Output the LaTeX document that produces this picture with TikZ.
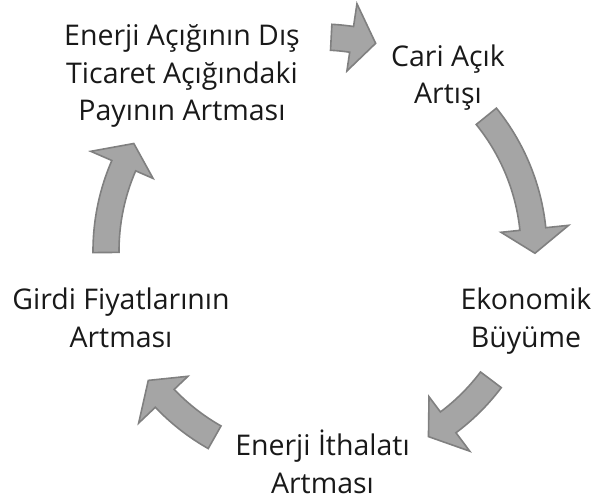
\documentclass[tikz,border=0pt]{standalone}
\usepackage{fontspec}
\setmainfont{Open Sans}

\definecolor{arrowfill}{HTML}{A5A5A5}
\definecolor{arrowline}{HTML}{808080}
\tikzset{
  item/.style={align=center, inner sep=0pt, anchor=base, text=black!90,
    font=\fontsize{28.5}{37.5}\selectfont},
  blockarrow/.style={fill=arrowfill, draw=arrowline, line width=1.6pt, line join=miter}
}
% circular block arrow: tail angle, tip angle (clockwise)
\newcommand{\blockarc}[2]{%
  \pgfmathsetmacro{\hb}{#2+6.5}
  \draw[blockarrow] (#1:227) arc[start angle=#1, end angle=\hb, radius=227]
    -- (\hb:250) -- (#2:215) -- (\hb:182) -- (\hb:201)
    arc[start angle=\hb, end angle=#1, radius=201] -- cycle;
}

\begin{document}
\begin{tikzpicture}[x=1pt,y=1pt]
  \useasboundingbox (-320,-250) rectangle (272,251);
  % base anchor = baseline of the last line
  \foreach \pos/\name/\txt in {
      {(-138,130)/payi/{Enerji Açığının Dış\\Ticaret Açığındaki\\Payının Artması}},
      {(128,147)/cari/{Cari Açık\\Artışı}},
      {(206,-96)/buyume/{Ekonomik\\Büyüme}},
      {(2.5,-242)/ithalat/{Enerji İthalatı\\Artması}},
      {(-199,-96)/girdi/{Girdi Fiyatlarının\\Artması}}}
    \node[item] (\name) at \pos {\txt};
  \foreach \tail/\tip in {87/75, 39/-0.6, -37/-59.7, 240.5/217, 180.4/150}
    {\blockarc{\tail}{\tip}}
\end{tikzpicture}
\end{document}
